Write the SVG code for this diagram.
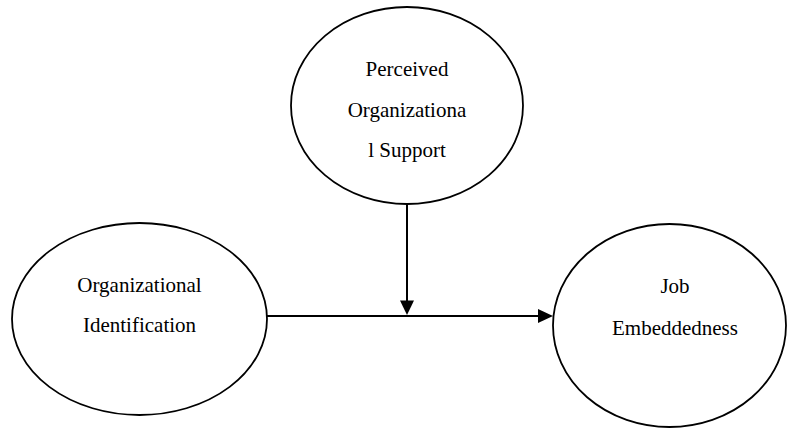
<svg xmlns="http://www.w3.org/2000/svg" width="787" height="428" viewBox="0 0 787 428">
<style>
.node ellipse{fill:#fff;stroke:#000;stroke-width:1.8}
.lbl{font-family:"Liberation Serif","Times New Roman",serif;font-size:21px;fill:#000;text-anchor:middle}
.conn line{stroke:#000;stroke-width:2}
.ah{fill:#000}
</style>
<rect width="787" height="428" fill="#fff"/>
<g id="node-pos" class="node">
<ellipse cx="407" cy="105.5" rx="116" ry="98.5"/>
<text class="lbl" x="407" y="76">Perceived</text>
<text class="lbl" x="407" y="117">Organizationa</text>
<text class="lbl" x="407" y="157">l Support</text>
</g>
<g id="node-oi" class="node">
<ellipse cx="139.5" cy="319" rx="127.5" ry="96"/>
<text class="lbl" x="139.5" y="292">Organizational</text>
<text class="lbl" x="139.5" y="332">Identification</text>
</g>
<g id="node-je" class="node">
<ellipse cx="669.5" cy="325.5" rx="116.5" ry="101.5"/>
<text class="lbl" x="675" y="293">Job</text>
<text class="lbl" x="675" y="335">Embeddedness</text>
</g>
<g id="connectors" class="conn">
<line x1="407" y1="204" x2="407" y2="301"/>
<polygon class="ah" points="400,300.5 414,300.5 407,315"/>
<line x1="267" y1="316" x2="539" y2="316"/>
<polygon class="ah" points="538,309 538,323 553,316"/>
</g>
</svg>
